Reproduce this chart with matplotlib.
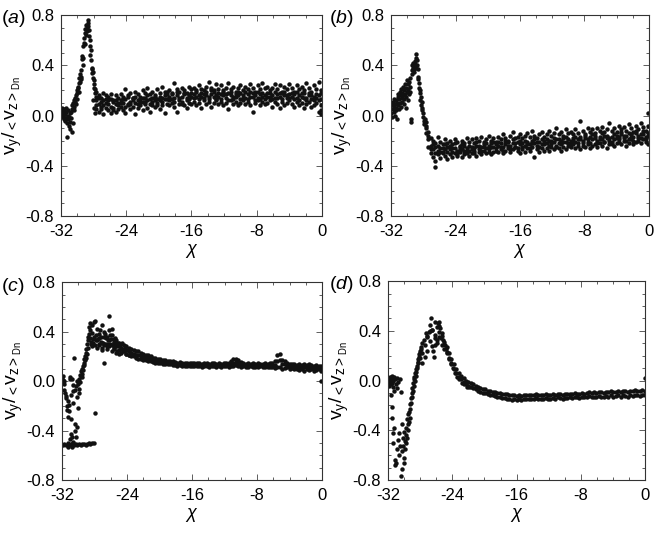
import matplotlib
matplotlib.use('Agg')
import matplotlib.pyplot as plt
from matplotlib.ticker import MultipleLocator

plt.rcParams['font.family'] = ['Liberation Sans', 'DejaVu Sans']
plt.rcParams['mathtext.fontset'] = 'custom'
plt.rcParams['mathtext.rm'] = 'Liberation Sans'
plt.rcParams['mathtext.it'] = 'Liberation Sans:italic'
plt.rcParams['mathtext.sf'] = 'Liberation Sans'

# chi positions used for the band readings (shared by all panels)
chi_grid = [-27.7, -27.4, -27.1, -26.8, -26.5, -26.2, -25.9, -25.6, -25.3, -25.0,
            -24.7, -24.4, -24.1, -23.8, -23.5, -23.2, -22.9, -22.6, -22.3, -22.0,
            -21.7, -21.4, -21.1, -20.8, -20.5, -20.2, -19.9, -19.6, -19.3, -19.0,
            -18.7, -18.4, -18.1, -17.8, -17.5, -17.2, -16.9, -16.6, -16.3, -16.0,
            -15.7, -15.4, -15.1, -14.8, -14.5, -14.2, -13.9, -13.6, -13.3, -13.0,
            -12.7, -12.4, -12.1, -11.8, -11.5, -11.2, -10.9, -10.6, -10.3, -10.0,
            -9.7, -9.4, -9.1, -8.8, -8.5, -8.2, -7.9, -7.6, -7.3, -7.0,
            -6.7, -6.4, -6.1, -5.8, -5.5, -5.2, -4.9, -4.6, -4.3, -4.0,
            -3.7, -3.4, -3.1, -2.8, -2.5, -2.2, -1.9, -1.6, -1.3, -1.0,
            -0.7, -0.4, -0.1]

# ---- panel (a) ----
xa_peak = [-31.95, -31.9, -31.85, -31.8, -31.75, -31.7, -31.65, -31.6, -31.55, -31.5,
           -31.45, -31.4, -31.35, -31.3, -31.25, -31.2, -31.15, -31.1, -31.05, -31.0,
           -30.95, -30.9, -30.85, -30.8, -30.75, -30.7, -30.65, -30.6, -30.55, -30.5,
           -30.45, -30.4, -30.35, -30.3, -30.25, -30.2, -30.15, -30.1, -30.05, -30.0,
           -29.95, -29.9, -29.85, -29.8, -29.75, -29.7, -29.65, -29.6, -29.55, -29.5,
           -29.45, -29.4, -29.35, -29.3, -29.25, -29.2, -29.15, -29.1, -29.05, -29.0,
           -28.95, -28.9, -28.85, -28.8, -28.75, -28.7, -28.65, -28.6, -28.55, -28.5,
           -28.45, -28.4, -28.35, -28.3, -28.25, -28.2, -28.15, -28.1, -28.05, -28.0,
           -27.95, -27.9, -27.85, -27.8, -27.75, -28.1, -27.95, -27.85, -0.1, -0.1]
ya_peak = [0.03, 0.06, -0.01, 0.04, 0.00, 0.02, -0.03, 0.05, 0.01, -0.04,
           0.03, -0.02, 0.06, -0.06, -0.17, 0.00, -0.03, 0.04, -0.08, -0.01,
           0.02, -0.05, -0.11, 0.03, -0.02, -0.13, 0.05, 0.08, -0.06, 0.10,
           0.04, 0.12, 0.07, 0.11, 0.14, 0.09, 0.16, 0.13, 0.20, 0.18,
           0.23, 0.22, 0.26, 0.19, 0.30, 0.27, 0.33, 0.29, 0.31, 0.36,
           0.45, 0.47, 0.40, 0.55, 0.46, 0.58, 0.62, 0.57, 0.66, 0.69,
           0.64, 0.72, 0.70, 0.67, 0.74, 0.76, 0.71, 0.63, 0.68, 0.55,
           0.60, 0.48, 0.52, 0.44, 0.38, 0.34, 0.37, 0.30, 0.35, 0.25,
           0.22, 0.28, 0.18, 0.21, 0.15, 0.12, 0.06, 0.02, 0.04, 0.01]
ya_band1 = [0.19, 0.16, 0.14, 0.18, 0.13, 0.15, 0.17, 0.12, 0.16, 0.14,
            0.17, 0.15, 0.21, 0.16, 0.18, 0.14, 0.19, 0.17, 0.15, 0.20,
            0.18, 0.22, 0.17, 0.19, 0.16, 0.21, 0.18, 0.23, 0.19, 0.17,
            0.20, 0.18, 0.26, 0.21, 0.19, 0.22, 0.20, 0.18, 0.23, 0.21,
            0.22, 0.19, 0.24, 0.21, 0.20, 0.23, 0.27, 0.22, 0.20, 0.25,
            0.21, 0.24, 0.20, 0.22, 0.26, 0.21, 0.23, 0.19, 0.22, 0.24,
            0.20, 0.23, 0.21, 0.25, 0.22, 0.19, 0.24, 0.21, 0.26, 0.22,
            0.23, 0.20, 0.22, 0.25, 0.21, 0.24, 0.19, 0.23, 0.21, 0.25,
            0.22, 0.19, 0.24, 0.21, 0.23, 0.20, 0.26, 0.22, 0.19, 0.24,
            0.21, 0.27, 0.20]
ya_band2 = [0.12, 0.09, 0.11, 0.08, 0.10, 0.12, 0.07, 0.11, 0.09, 0.10,
            0.12, 0.10, 0.13, 0.09, 0.11, 0.14, 0.10, 0.12, 0.13, 0.11,
            0.14, 0.12, 0.13, 0.11, 0.15, 0.13, 0.12, 0.14, 0.16, 0.13,
            0.15, 0.13, 0.14, 0.16, 0.12, 0.15, 0.17, 0.14, 0.16, 0.15,
            0.17, 0.15, 0.16, 0.18, 0.14, 0.16, 0.15, 0.17, 0.19, 0.16,
            0.15, 0.17, 0.16, 0.14, 0.18, 0.16, 0.15, 0.17, 0.16, 0.18,
            0.16, 0.14, 0.17, 0.15, 0.18, 0.16, 0.14, 0.17, 0.15, 0.16,
            0.18, 0.15, 0.16, 0.14, 0.17, 0.15, 0.18, 0.16, 0.14, 0.17,
            0.15, 0.17, 0.14, 0.16, 0.15, 0.18, 0.14, 0.16, 0.13, 0.15,
            0.14, 0.16, 0.13]
ya_band3 = [0.05, 0.03, 0.07, 0.01, 0.06, 0.04, 0.02, 0.06, 0.03, 0.05,
            0.07, 0.04, 0.02, 0.08, 0.05, 0.07, 0.01, 0.06, 0.08, 0.04,
            0.09, 0.06, 0.03, 0.08, 0.07, 0.10, 0.05, 0.08, 0.02, 0.09,
            0.08, 0.10, 0.07, 0.03, 0.09, 0.11, 0.08, 0.06, 0.10, 0.09,
            0.11, 0.08, 0.10, 0.06, 0.12, 0.09, 0.11, 0.07, 0.10, 0.12,
            0.09, 0.11, 0.08, 0.10, 0.05, 0.12, 0.09, 0.11, 0.08, 0.10,
            0.12, 0.09, 0.11, 0.08, 0.03, 0.10, 0.12, 0.08, 0.11, 0.09,
            0.10, 0.12, 0.07, 0.11, 0.09, 0.06, 0.11, 0.08, 0.10, 0.12,
            0.09, 0.07, 0.11, 0.08, 0.10, 0.06, 0.09, 0.11, 0.07, 0.08,
            0.10, 0.03, 0.08]
ya_band4 = [0.08, 0.14, 0.05, 0.12, 0.16, 0.09, 0.13, 0.04, 0.12, 0.08,
            0.10, 0.13, 0.07, 0.15, 0.09, 0.12, 0.15, 0.09, 0.11, 0.14,
            0.11, 0.16, 0.09, 0.14, 0.12, 0.08, 0.15, 0.11, 0.13, 0.19,
            0.12, 0.17, 0.11, 0.19, 0.14, 0.09, 0.18, 0.12, 0.13, 0.18,
            0.14, 0.20, 0.13, 0.15, 0.17, 0.19, 0.13, 0.20, 0.15, 0.13,
            0.18, 0.13, 0.19, 0.17, 0.12, 0.19, 0.13, 0.15, 0.19, 0.13,
            0.14, 0.19, 0.13, 0.19, 0.15, 0.12, 0.19, 0.13, 0.18, 0.13,
            0.15, 0.18, 0.13, 0.19, 0.14, 0.18, 0.13, 0.19, 0.16, 0.14,
            0.18, 0.13, 0.19, 0.12, 0.18, 0.14, 0.12, 0.18, 0.16, 0.12,
            0.17, 0.12, 0.18]

# ---- panel (b) ----
xb_peak = [-31.95, -31.9, -31.85, -31.8, -31.75, -31.7, -31.65, -31.6, -31.55, -31.5,
           -31.45, -31.4, -31.35, -31.3, -31.25, -31.2, -31.15, -31.1, -31.05, -31.0,
           -30.95, -30.9, -30.85, -30.8, -30.75, -30.7, -30.65, -30.6, -30.55, -30.5,
           -30.45, -30.4, -30.35, -30.3, -30.25, -30.2, -30.15, -30.1, -30.05, -30.0,
           -29.95, -29.9, -29.85, -29.8, -29.75, -29.7, -29.65, -29.6, -29.55, -29.5,
           -29.45, -29.4, -29.35, -29.3, -29.25, -29.2, -29.15, -29.1, -29.05, -29.0,
           -28.95, -28.9, -28.85, -28.8, -28.75, -28.7, -28.65, -28.6, -28.55, -28.5,
           -28.45, -28.4, -28.35, -28.3, -28.25, -28.2, -28.15, -28.1, -28.05, -28.0,
           -27.95, -27.9, -27.85, -26.6, -0.1]
yb_peak = [0.02, 0.08, -0.01, 0.05, 0.11, 0.03, 0.07, 0.13, 0.00, 0.09,
           0.04, 0.12, 0.06, -0.03, 0.10, 0.15, 0.08, 0.17, 0.05, 0.13,
           0.19, 0.10, 0.16, 0.07, 0.21, 0.14, 0.18, 0.11, 0.23, 0.16,
           0.09, 0.20, 0.13, 0.25, 0.17, 0.06, 0.22, 0.15, 0.28, 0.19,
           0.12, 0.25, 0.21, 0.17, 0.27, 0.23, 0.30, 0.19, -0.03, -0.05,
           0.36, 0.40, 0.33, 0.38, 0.42, 0.37, 0.39, 0.35, 0.43, 0.41,
           0.38, 0.49, 0.46, 0.40, 0.44, 0.29, 0.37, 0.31, 0.26, 0.22,
           0.18, 0.20, 0.12, 0.15, 0.08, 0.11, 0.04, 0.06, -0.01, 0.02,
           -0.04, -0.07, -0.03, -0.41, 0.02]
yb_band1 = [-0.05, -0.13, -0.18, -0.20, -0.22, -0.17, -0.21, -0.23, -0.19, -0.22,
            -0.20, -0.23, -0.19, -0.21, -0.24, -0.20, -0.22, -0.18, -0.21, -0.19,
            -0.22, -0.18, -0.20, -0.17, -0.21, -0.19, -0.16, -0.20, -0.18, -0.21,
            -0.17, -0.19, -0.15, -0.18, -0.20, -0.16, -0.13, -0.18, -0.17, -0.15,
            -0.18, -0.16, -0.14, -0.17, -0.12, -0.16, -0.18, -0.15, -0.13, -0.17,
            -0.15, -0.12, -0.16, -0.14, -0.10, -0.15, -0.13, -0.16, -0.11, -0.14,
            -0.13, -0.15, -0.11, -0.14, -0.04, -0.12, -0.15, -0.10, -0.13, -0.11,
            -0.14, -0.10, -0.12, -0.09, -0.13, -0.11, -0.06, -0.12, -0.10, -0.13,
            -0.08, -0.11, -0.09, -0.12, -0.07, -0.10, -0.13, -0.08, -0.11, -0.06,
            -0.09, -0.12, -0.08]
yb_band2 = [-0.10, -0.19, -0.24, -0.27, -0.25, -0.28, -0.26, -0.29, -0.27, -0.25,
            -0.27, -0.29, -0.26, -0.28, -0.25, -0.27, -0.24, -0.26, -0.28, -0.25,
            -0.26, -0.24, -0.27, -0.25, -0.23, -0.26, -0.24, -0.22, -0.25, -0.23,
            -0.24, -0.22, -0.25, -0.23, -0.21, -0.24, -0.22, -0.25, -0.21, -0.23,
            -0.22, -0.24, -0.21, -0.23, -0.20, -0.22, -0.24, -0.21, -0.23, -0.20,
            -0.22, -0.20, -0.23, -0.21, -0.19, -0.22, -0.20, -0.18, -0.21, -0.19,
            -0.20, -0.18, -0.21, -0.19, -0.17, -0.20, -0.18, -0.21, -0.17, -0.19,
            -0.18, -0.20, -0.17, -0.19, -0.16, -0.18, -0.20, -0.17, -0.15, -0.18,
            -0.17, -0.15, -0.18, -0.16, -0.19, -0.15, -0.17, -0.14, -0.16, -0.18,
            -0.15, -0.17, -0.14]
yb_band3 = [-0.14, -0.25, -0.30, -0.33, -0.36, -0.31, -0.34, -0.30, -0.32, -0.35,
            -0.31, -0.33, -0.30, -0.32, -0.29, -0.33, -0.31, -0.28, -0.32, -0.30,
            -0.30, -0.32, -0.29, -0.31, -0.28, -0.30, -0.27, -0.31, -0.29, -0.28,
            -0.29, -0.27, -0.30, -0.28, -0.26, -0.29, -0.27, -0.25, -0.28, -0.30,
            -0.27, -0.29, -0.26, -0.28, -0.25, -0.33, -0.27, -0.29, -0.26, -0.28,
            -0.26, -0.28, -0.25, -0.27, -0.24, -0.26, -0.28, -0.25, -0.27, -0.24,
            -0.25, -0.23, -0.26, -0.24, -0.27, -0.22, -0.25, -0.23, -0.26, -0.24,
            -0.23, -0.25, -0.22, -0.24, -0.21, -0.26, -0.23, -0.21, -0.24, -0.22,
            -0.21, -0.23, -0.20, -0.24, -0.22, -0.19, -0.23, -0.21, -0.20, -0.22,
            -0.19, -0.21, -0.23]
yb_band4 = [-0.08, -0.16, -0.27, -0.23, -0.30, -0.24, -0.29, -0.26, -0.23, -0.29,
            -0.24, -0.26, -0.22, -0.31, -0.27, -0.23, -0.28, -0.30, -0.24, -0.27,
            -0.28, -0.21, -0.24, -0.28, -0.25, -0.22, -0.29, -0.25, -0.21, -0.26,
            -0.21, -0.25, -0.28, -0.20, -0.24, -0.27, -0.19, -0.22, -0.26, -0.20,
            -0.25, -0.20, -0.23, -0.26, -0.22, -0.19, -0.21, -0.25, -0.19, -0.23,
            -0.19, -0.24, -0.20, -0.18, -0.25, -0.19, -0.23, -0.21, -0.17, -0.22,
            -0.23, -0.20, -0.17, -0.22, -0.19, -0.24, -0.16, -0.19, -0.22, -0.15,
            -0.16, -0.22, -0.19, -0.14, -0.21, -0.16, -0.18, -0.23, -0.19, -0.16,
            -0.19, -0.13, -0.16, -0.20, -0.14, -0.17, -0.20, -0.12, -0.18, -0.15,
            -0.12, -0.19, -0.16]

# ---- panel (c) ----
xc_peak = [-31.9, -31.7, -31.5, -31.3, -31.1, -30.9, -30.7, -30.5, -30.3, -30.1,
           -29.9, -29.7, -29.5, -29.3, -29.1, -28.9, -28.7, -28.5, -28.3, -28.1,
           -31.0, -30.8, -30.9, -30.75, -31.2, -30.6,
           -31.95, -31.9, -31.85, -31.8, -31.75, -31.7, -31.6, -31.55, -31.5, -31.4,
           -31.35, -31.3, -31.2, -31.15, -31.1, -31.05, -31.0, -30.95, -30.9, -30.8,
           -30.7, -30.65, -30.6, -30.5, -30.45, -30.4, -30.35, -30.3, -30.25, -30.2,
           -30.15, -30.1, -30.05, -30.0, -29.95, -29.9, -29.85, -29.8, -29.75, -29.7,
           -29.65, -29.6, -29.55, -29.5, -29.45, -29.4, -29.35, -29.3, -29.25, -29.2,
           -29.15, -29.1, -29.05, -29.0, -28.95, -28.9, -28.85, -28.8, -28.75, -28.7,
           -28.65, -28.6, -28.55, -28.5, -28.45, -28.4, -28.35, -28.3, -28.25, -28.2,
           -28.15, -28.1, -28.05, -28.0, -27.95, -27.9, -27.85, -27.8,
           -27.55, -27.45, -27.35, -27.25, -27.15, -27.05, -26.95, -26.85, -26.75, -26.65,
           -26.55, -26.45, -26.35, -26.25, -26.15, -26.05, -25.95, -25.85, -25.75, -25.65,
           -25.55, -25.45, -25.35, -25.25, -25.15, -25.05, -24.95, -24.85, -24.75, -24.65,
           -24.5, -24.3, -24.1, -23.9, -23.7, -23.5, -0.1]
yc_peak = [-0.52, -0.51, -0.52, -0.50, -0.52, -0.51, -0.49, -0.52, -0.51, -0.52,
           -0.51, -0.52, -0.51, -0.51, -0.52, -0.51, -0.50, -0.51, -0.50, -0.50,
           -0.47, -0.45, -0.43, -0.53, -0.53, -0.50,
           0.03, 0.01, 0.04, -0.02, 0.00, -0.07, -0.10, -0.14, -0.12, -0.20,
           -0.23, -0.16, -0.29, -0.24, -0.19, 0.02, 0.03, -0.31, -0.11, 0.02,
           -0.18, -0.08, -0.03, 0.19, -0.35, -0.40, -0.07, -0.45, -0.04, -0.37,
           -0.13, 0.00, -0.02, -0.22, -0.06, 0.02, -0.10, 0.05, -0.01, 0.04,
           0.08, 0.03, 0.10, 0.06, 0.12, 0.09, 0.15, 0.18, 0.13, 0.20,
           0.17, 0.23, 0.19, 0.26, 0.22, 0.30, 0.27, 0.36, 0.33, 0.38,
           0.44, 0.41, 0.35, 0.47, 0.32, 0.30, 0.39, 0.28, 0.45, 0.34,
           0.31, 0.48, 0.36, 0.29, 0.49, -0.26, 0.33, 0.37,
           0.34, 0.29, 0.41, 0.32, 0.36, 0.27, 0.31, 0.15, 0.38, 0.30,
           0.35, 0.28, 0.33, 0.53, 0.37, 0.30, 0.34, 0.42, 0.29, 0.32,
           0.27, 0.35, 0.30, 0.24, 0.31, 0.28, 0.22, 0.29, 0.26, 0.31,
           0.24, 0.27, 0.22, 0.25, 0.21, 0.23, 0.00]
yc_band1 = [0.42, 0.38, 0.45, 0.40, 0.36, 0.41, 0.37, 0.34, 0.33, 0.31,
            0.30, 0.29, 0.28, 0.27, 0.26, 0.25, 0.24, 0.24, 0.23, 0.22,
            0.21, 0.21, 0.20, 0.19, 0.19, 0.18, 0.18, 0.17, 0.17, 0.165,
            0.16, 0.16, 0.155, 0.15, 0.155, 0.15, 0.145, 0.15, 0.145, 0.15,
            0.145, 0.15, 0.145, 0.14, 0.15, 0.145, 0.14, 0.15, 0.145, 0.14,
            0.145, 0.14, 0.15, 0.145, 0.15, 0.16, 0.175, 0.18, 0.17, 0.155,
            0.145, 0.14, 0.15, 0.14, 0.145, 0.14, 0.145, 0.14, 0.135, 0.145,
            0.14, 0.145, 0.15, 0.16, 0.21, 0.22, 0.17, 0.165, 0.15, 0.14,
            0.135, 0.14, 0.13, 0.135, 0.13, 0.14, 0.13, 0.135, 0.13, 0.125,
            0.13, 0.12, 0.125]
yc_band2 = [0.27, 0.30, 0.25, 0.29, 0.26, 0.28, 0.24, 0.26, 0.23, 0.25,
            0.23, 0.24, 0.22, 0.21, 0.20, 0.20, 0.19, 0.18, 0.18, 0.17,
            0.17, 0.16, 0.16, 0.155, 0.15, 0.15, 0.145, 0.14, 0.14, 0.135,
            0.135, 0.13, 0.13, 0.125, 0.13, 0.12, 0.125, 0.12, 0.125, 0.12,
            0.12, 0.125, 0.12, 0.115, 0.12, 0.125, 0.115, 0.12, 0.12, 0.115,
            0.12, 0.115, 0.12, 0.125, 0.115, 0.12, 0.125, 0.13, 0.12, 0.115,
            0.12, 0.115, 0.11, 0.12, 0.115, 0.11, 0.115, 0.12, 0.11, 0.115,
            0.11, 0.115, 0.11, 0.105, 0.115, 0.11, 0.10, 0.105, 0.11, 0.10,
            0.105, 0.095, 0.10, 0.09, 0.10, 0.085, 0.095, 0.09, 0.10, 0.085,
            0.09, 0.095, 0.08]
yc_band3 = [0.33, 0.35, 0.31, 0.36, 0.30, 0.33, 0.29, 0.31, 0.28, 0.29,
            0.27, 0.26, 0.25, 0.24, 0.23, 0.22, 0.215, 0.21, 0.20, 0.195,
            0.19, 0.185, 0.18, 0.175, 0.17, 0.165, 0.16, 0.155, 0.155, 0.15,
            0.145, 0.145, 0.14, 0.14, 0.14, 0.135, 0.135, 0.135, 0.135, 0.135,
            0.13, 0.135, 0.13, 0.13, 0.135, 0.13, 0.13, 0.135, 0.13, 0.13,
            0.13, 0.13, 0.135, 0.13, 0.135, 0.14, 0.15, 0.155, 0.145, 0.135,
            0.13, 0.13, 0.13, 0.13, 0.13, 0.125, 0.13, 0.13, 0.125, 0.13,
            0.125, 0.13, 0.13, 0.13, 0.16, 0.17, 0.14, 0.135, 0.13, 0.12,
            0.12, 0.12, 0.115, 0.115, 0.115, 0.115, 0.11, 0.11, 0.115, 0.105,
            0.11, 0.105, 0.10]

# ---- panel (d) ----
xd_peak = [-31.95, -31.9, -31.85, -31.8, -31.75, -31.7, -31.65, -31.6, -31.55, -31.5,
           -31.45, -31.4, -31.35, -31.3, -31.25, -31.2, -31.1, -31.0, -30.9, -30.8,
           -30.7, -30.5, -30.4,
           -31.6, -31.5, -31.45, -31.4, -31.3, -31.2, -31.1, -31.05, -30.95, -30.8,
           -30.7, -30.6, -30.55, -30.45, -30.35, -30.3, -30.25, -30.2, -30.15, -30.1,
           -30.05, -30.0, -29.95, -29.9, -29.85, -29.8, -29.75, -29.7, -29.65, -29.6,
           -29.55, -29.5, -29.45, -29.4, -29.35, -29.3, -29.25, -29.2, -29.15, -29.1,
           -29.05, -29.0, -28.95, -28.9, -28.85, -28.8, -28.75, -28.7, -28.65, -28.6,
           -28.55, -28.5, -28.45, -28.4, -28.35, -28.3, -28.25, -28.2, -28.15, -28.1,
           -28.05, -28.0, -27.95, -27.9, -27.85, -27.8,
           -27.5, -27.3, -27.1, -26.9, -26.75, -26.65, -26.55, -26.4, -26.3, -26.2,
           -26.1, -25.95, -25.8, -25.7, -25.6, -25.5, -25.4, -25.3, -25.1, -24.9,
           -24.8, -24.6, -24.4, -24.2, -23.9, -23.7, -23.4, -23.1, -22.8, -22.5,
           -22.2, -21.9, -0.1]
yd_peak = [-0.02, 0.01, -0.04, 0.00, 0.03, -0.01, 0.02, -0.03, 0.01, 0.04,
           -0.02, 0.02, 0.00, -0.05, 0.03, -0.08, 0.01, -0.03, 0.02, -0.06,
           -0.01, 0.01, -0.09,
           -0.12, -0.21, -0.30, -0.42, -0.50, -0.38, -0.64, -0.68, -0.66, -0.55,
           -0.48, -0.42, -0.60, -0.53, -0.77, -0.57, -0.35, -0.71, -0.46, -0.53,
           -0.62, -0.66, -0.41, -0.55, -0.49, -0.38, -0.50, -0.44, -0.31, -0.46,
           -0.35, -0.27, -0.40, -0.33, -0.25, -0.30, -0.19, -0.23, -0.14, -0.18,
           -0.10, -0.13, -0.06, -0.08, -0.02, -0.04, 0.01, 0.03, 0.00, 0.06,
           0.04, 0.09, 0.07, 0.12, 0.10, 0.14, 0.17, 0.15, 0.19, 0.21,
           0.18, 0.24, 0.22, 0.27, 0.25, 0.30,
           0.33, 0.38, 0.35, 0.39, 0.45, 0.50, 0.41, 0.24, 0.19, 0.37,
           0.29, 0.33, 0.46, 0.39, 0.47, 0.42, 0.34, 0.38, 0.33, 0.29,
           0.25, 0.23, 0.18, 0.14, 0.10, 0.06, 0.03, 0.01, -0.02, -0.03,
           -0.05, -0.05, 0.02]
yd_band1 = [0.22, 0.29, 0.36, 0.40, 0.41, 0.47, 0.43, 0.44, 0.36, 0.31,
            0.27, 0.22, 0.17, 0.13, 0.09, 0.06, 0.04, 0.02, 0.00, -0.01,
            -0.02, -0.03, -0.04, -0.05, -0.06, -0.07, -0.07, -0.08, -0.085, -0.09,
            -0.095, -0.10, -0.10, -0.105, -0.11, -0.11, -0.115, -0.12, -0.12, -0.125,
            -0.12, -0.125, -0.12, -0.115, -0.12, -0.115, -0.12, -0.11, -0.115, -0.12,
            -0.115, -0.11, -0.12, -0.115, -0.11, -0.115, -0.105, -0.11, -0.115, -0.11,
            -0.11, -0.105, -0.11, -0.10, -0.105, -0.11, -0.10, -0.105, -0.10, -0.095,
            -0.10, -0.095, -0.10, -0.09, -0.095, -0.10, -0.09, -0.095, -0.085, -0.09,
            -0.09, -0.085, -0.09, -0.08, -0.085, -0.09, -0.08, -0.085, -0.075, -0.08,
            -0.085, -0.075, -0.08]
yd_band2 = [0.14, 0.19, 0.24, 0.32, 0.28, 0.34, 0.30, 0.35, 0.29, 0.25,
            0.22, 0.17, 0.13, 0.09, 0.06, 0.03, 0.01, -0.01, -0.03, -0.04,
            -0.05, -0.06, -0.07, -0.08, -0.09, -0.10, -0.10, -0.11, -0.115, -0.12,
            -0.125, -0.13, -0.135, -0.14, -0.14, -0.145, -0.15, -0.155, -0.15, -0.155,
            -0.15, -0.155, -0.15, -0.145, -0.15, -0.145, -0.15, -0.14, -0.145, -0.15,
            -0.145, -0.14, -0.15, -0.145, -0.14, -0.145, -0.135, -0.14, -0.145, -0.14,
            -0.14, -0.135, -0.14, -0.13, -0.135, -0.14, -0.13, -0.135, -0.13, -0.125,
            -0.13, -0.135, -0.13, -0.125, -0.13, -0.135, -0.125, -0.13, -0.12, -0.13,
            -0.125, -0.12, -0.13, -0.12, -0.125, -0.13, -0.12, -0.125, -0.115, -0.12,
            -0.125, -0.115, -0.12]

panels = [
    ('a', [0.0933, 0.597, 0.399, 0.375], xa_peak, ya_peak,
     [ya_band1, ya_band2, ya_band3, ya_band4], (0.002, 0.966)),
    ('b', [0.598, 0.597, 0.394, 0.375], xb_peak, yb_peak,
     [yb_band1, yb_band2, yb_band3, yb_band4], (0.503, 0.966)),
    ('c', [0.0948, 0.1045, 0.3976, 0.369], xc_peak, yc_peak,
     [yc_band1, yc_band2, yc_band3], (0.002, 0.466)),
    ('d', [0.593, 0.1045, 0.394, 0.371], xd_peak, yd_peak,
     [yd_band1, yd_band2], (0.503, 0.470)),
]

fig = plt.figure(figsize=(6.54, 5.36), dpi=100)
dot = dict(ls='none', marker='o', ms=3.2, mew=0, color='#111111')

for name, rect, xp, yp, bands, lab in panels:
    ax = fig.add_axes(rect)
    ax.plot(xp, yp, **dot)
    for yb in bands:
        ax.plot(chi_grid, yb, **dot)
    ax.set_xlim(-32, 0)
    ax.set_ylim(-0.8, 0.8)
    ax.xaxis.set_minor_locator(MultipleLocator(2))
    ax.yaxis.set_minor_locator(MultipleLocator(0.1))
    ax.set_yticks([-0.8, -0.4, 0.0, 0.4, 0.8])
    ax.set_yticklabels(['-0.8', '-0.4', '0.0', '0.4', '0.8'])
    ax.set_xticks([-32, -24, -16, -8, 0])
    ax.set_xticklabels(['-32', '-24', '-16', '-8', '0'])
    ax.tick_params(which='both', direction='in', top=True, right=True,
                   labelsize=12, width=0.6, color='#444444')
    ax.tick_params(which='major', length=4.5)
    ax.tick_params(which='minor', length=2.5)
    ax.tick_params(axis='x', pad=6)
    ax.tick_params(axis='y', pad=5)
    for s in ax.spines.values():
        s.set_linewidth(0.8)
        s.set_color('#333333')
    ax.set_xlabel(r'$\chi$', fontsize=13, labelpad=2)
    ax.set_ylabel(r'$\mathregular{v_y/_{<}v_{z>_{Dn}}}$', fontsize=14, labelpad=1)
    fig.text(lab[0], lab[1], '(' + r'$\mathit{' + name + '}$' + ')', fontsize=14, va='center')

plt.savefig('out.png', dpi=100)
